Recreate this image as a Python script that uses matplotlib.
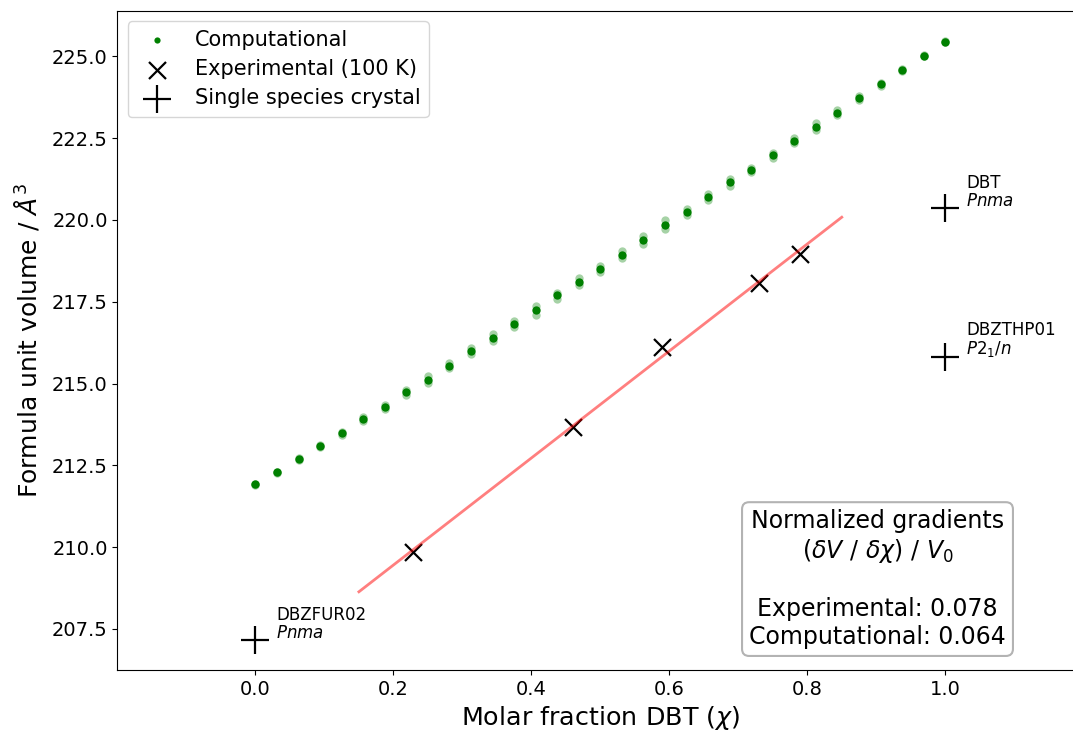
import numpy as np
import matplotlib
matplotlib.use("Agg")
import matplotlib.pyplot as plt

# computational volumes, x = k/32
comp_x = [k / 32 for k in range(33)]
comp_main = [211.92, 212.29, 212.69, 213.08, 213.48, 213.91, 214.29, 214.73, 215.12, 215.54,
             215.98, 216.40, 216.81, 217.25, 217.69, 218.11, 218.50, 218.94, 219.40, 219.85,
             220.25, 220.70, 221.15, 221.53, 221.97, 222.42, 222.84, 223.28, 223.72, 224.14,
             224.59, 225.02, 225.45]
comp_hi = [211.94, 212.31, 212.72, 213.11, 213.53, 213.99, 214.35, 214.80, 215.22, 215.62,
           216.07, 216.52, 216.90, 217.38, 217.76, 218.22, 218.60, 219.05, 219.50, 220.00,
           220.33, 220.80, 221.25, 221.60, 222.06, 222.50, 222.95, 223.35, 223.78, 224.18,
           224.62, 225.04, 225.47]
comp_lo = [211.90, 212.27, 212.66, 213.05, 213.44, 213.86, 214.22, 214.66, 215.03, 215.46,
           215.90, 216.30, 216.72, 217.10, 217.57, 218.00, 218.40, 218.85, 219.27, 219.72,
           220.15, 220.60, 221.05, 221.45, 221.88, 222.35, 222.74, 223.20, 223.66, 224.10,
           224.56, 225.00, 225.43]

# experimental (100 K)
exp_x = [0.229, 0.460, 0.590, 0.730, 0.790]
exp_y = [209.85, 213.66, 216.13, 218.07, 218.97]

# single species crystals
single_x = [0.0, 1.0, 1.0]
single_y = [207.16, 220.35, 215.80]
single_names = ["DBZFUR02", "DBT", "DBZTHP01"]
single_groups = ["$Pnma$", "$Pnma$", "$P2_1/n$"]

grad_exp = 0.078
grad_comp = 0.064

fig = plt.figure(figsize=(10.73, 7.33), dpi=100)
ax = fig.add_axes([0.1095, 0.086, 0.9, 0.899])

ax.scatter(comp_x, comp_hi, s=36, color="green", alpha=0.35, lw=0)
ax.scatter(comp_x, comp_lo, s=36, color="green", alpha=0.35, lw=0)
comp = ax.scatter(comp_x, comp_main, s=36, color="green", lw=0, label="Computational")
ax.scatter(exp_x, exp_y, s=150, marker="x", color="black", linewidths=1.6,
           label="Experimental (100 K)")
ax.scatter(single_x, single_y, s=420, marker="+", color="black", linewidths=1.6,
           label="Single species crystal")

# linear fit of experimental points
coef = np.polyfit(exp_x, exp_y, 1)
fx = np.array([0.15, 0.85])
ax.plot(fx, np.polyval(coef, fx), color="red", alpha=0.5, lw=2, zorder=3)

for x, y, n, g in zip(single_x, single_y, single_names, single_groups):
    ax.text(x + 0.03, y - 0.05, n + "\n" + g, fontsize=12, va="bottom", ha="left",
            linespacing=1.0)

txt = ("Normalized gradients\n$(\\delta V\\ /\\ \\delta\\chi)\\ /\\ V_0$\n\n"
       "Experimental: %.3f\nComputational: %.3f" % (grad_exp, grad_comp))
ax.text(0.787, 0.032, txt, transform=ax.transAxes, fontsize=17, ha="center",
        va="bottom", multialignment="center", linespacing=1.2,
        bbox=dict(boxstyle="round,pad=0.3", facecolor="white", edgecolor="0.7", lw=1.5))

ax.set_xlim(-0.2, 1.2)
ax.set_xticks([0.0, 0.2, 0.4, 0.6, 0.8, 1.0])
ax.tick_params(labelsize=14)
ax.set_xlabel("Molar fraction DBT ($\\chi$)", fontsize=18.3)
ax.set_ylabel("Formula unit volume / $Å^3$", fontsize=18, labelpad=7.5)

leg = ax.legend(loc="upper left", fontsize=15, labelspacing=0.45)
leg.legend_handles[0].set_sizes([20])

fig.savefig("out.png", dpi=100)
